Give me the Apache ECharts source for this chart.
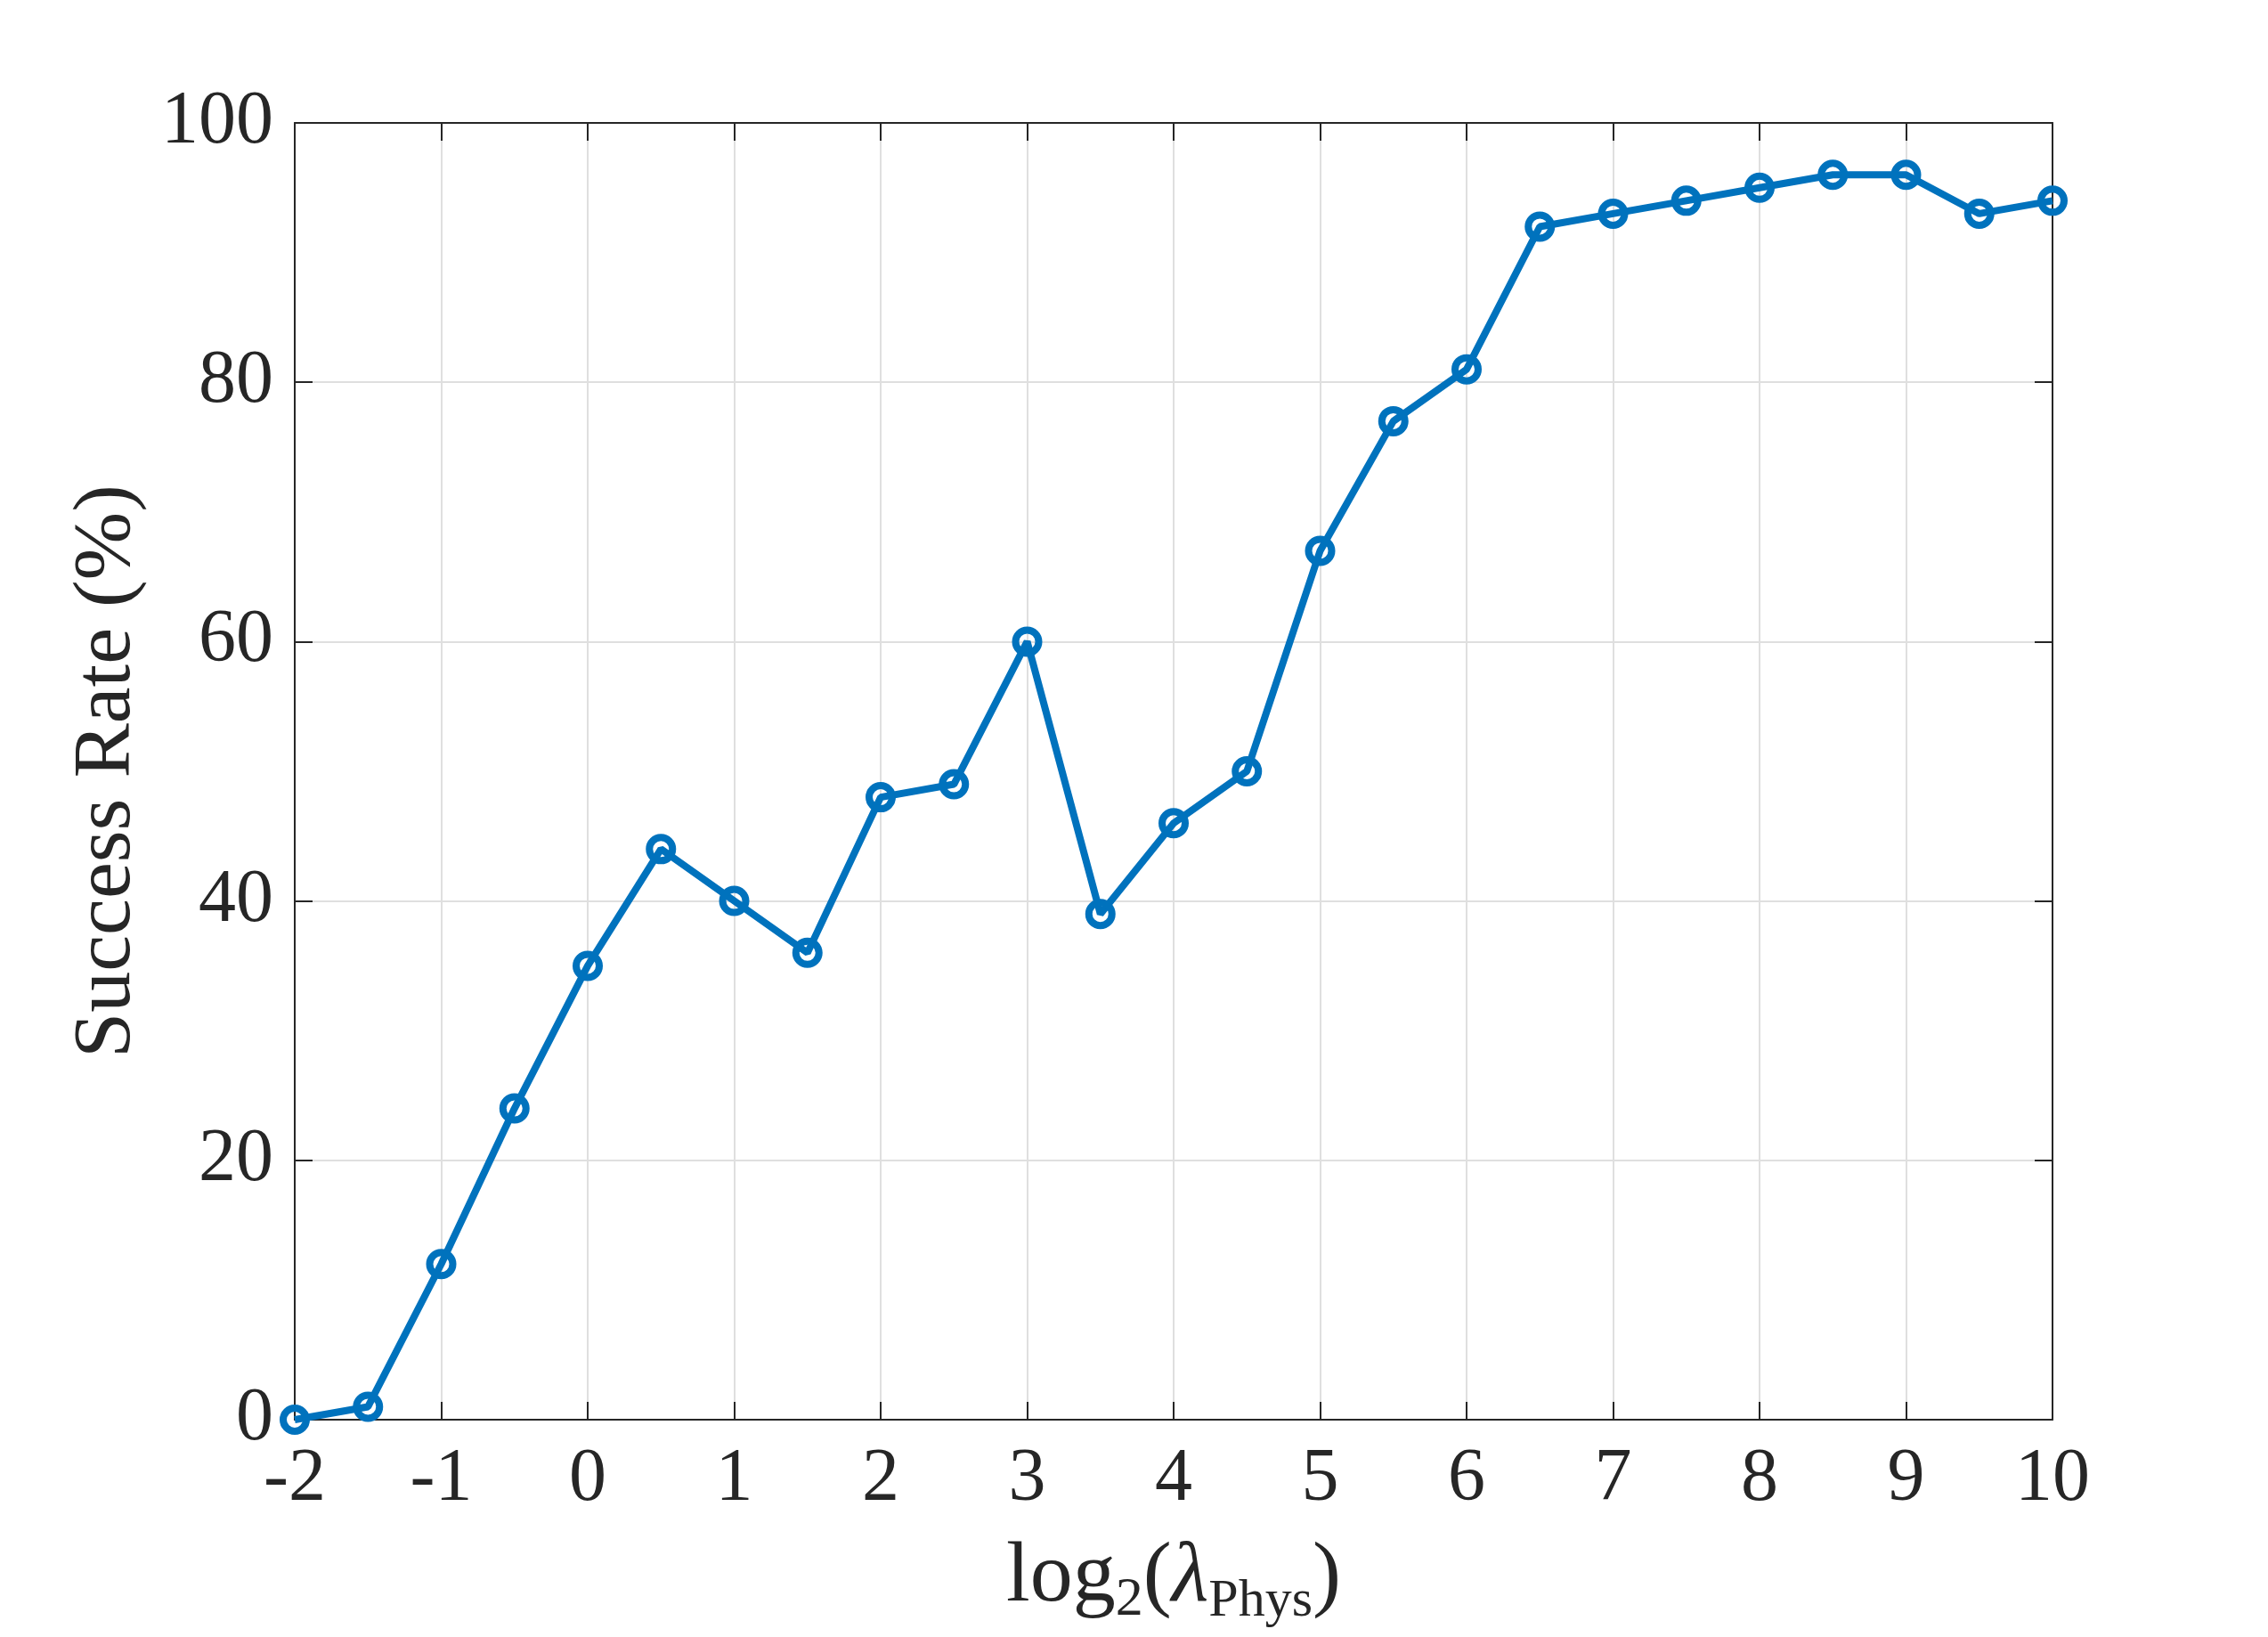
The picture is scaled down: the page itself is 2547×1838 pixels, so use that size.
<!DOCTYPE html>
<html>
<head>
<meta charset="utf-8">
<script src="https://cdn.jsdelivr.net/npm/echarts@6/dist/echarts.min.js"></script>
<style>
  html, body { margin: 0; padding: 0; background: #fff; }
  #main { width: 2547px; height: 1838px; }
</style>
</head>
<body>
<div id="main"></div>
<script>
// log2(lambda_Phys) values and the success rate at each
var lambdaLog2 = [-2, -1.5, -1, -0.5, 0, 0.5, 1, 1.5, 2, 2.5, 3, 3.5, 4, 4.5, 5, 5.5, 6, 6.5, 7, 7.5, 8, 8.5, 9, 9.5, 10];
var successRate = [0, 1, 12, 24, 35, 44, 40, 36, 48, 49, 60, 39, 46, 50, 67, 77, 81, 92, 93, 94, 95, 96, 96, 93, 94];

var xTicks = { min: -2, max: 10, interval: 1 };
var yTicks = { min: 0, max: 100, interval: 20 };

var chartDom = document.getElementById('main');
var myChart = echarts.init(chartDom);

var ink = '#262626';
var blue = '#0072BD';
var font = 'Liberation Serif';

var points = lambdaLog2.map(function (x, i) { return [x, successRate[i]]; });

// top / right copies of the axes: only the frame line and inside ticks
var frameAxis = {
    axisLine: { show: true, onZero: false, lineStyle: { color: ink, width: 2 } },
    axisTick: { show: true, inside: true, length: 20, lineStyle: { color: ink, width: 2 } },
    axisLabel: { show: false },
    splitLine: { show: false }
};

var option = {
    animation: false,
    backgroundColor: '#fff',
    grid: { left: 331, right: 242, top: 138, bottom: 244 },
    xAxis: [
        {
            type: 'value',
            min: xTicks.min, max: xTicks.max, interval: xTicks.interval,
            position: 'bottom',
            name: '{a|log}{s2|2}{a|(}{l|λ}{sp|Phys}{a|)}',
            nameLocation: 'middle',
            nameGap: 122,
            nameTextStyle: {
                rich: {
                    a: { fontFamily: font, fontSize: 96, color: ink, lineHeight: 112 },
                    l: { fontFamily: font, fontSize: 96, color: ink, lineHeight: 112, fontStyle: 'italic' },
                    s2: { fontFamily: font, fontSize: 62, color: ink, lineHeight: 60, verticalAlign: 'bottom' },
                    sp: { fontFamily: font, fontSize: 60, color: ink, lineHeight: 60, verticalAlign: 'bottom' }
                }
            },
            axisLine: { show: true, onZero: false, lineStyle: { color: ink, width: 2 } },
            axisTick: { show: true, inside: true, length: 20, lineStyle: { color: ink, width: 2 } },
            axisLabel: { show: true, margin: 26, fontFamily: font, fontSize: 84, color: ink,
                         formatter: function (v) { return String(v); } },
            splitLine: { show: true, lineStyle: { color: '#dfdfdf', width: 2 } }
        },
        Object.assign({
            type: 'value',
            min: xTicks.min, max: xTicks.max, interval: xTicks.interval,
            position: 'top'
        }, frameAxis)
    ],
    yAxis: [
        {
            type: 'value',
            min: yTicks.min, max: yTicks.max, interval: yTicks.interval,
            position: 'left',
            name: 'Success Rate (%)',
            nameLocation: 'middle',
            nameGap: 164,
            nameRotate: 90,
            nameTextStyle: { fontFamily: font, fontSize: 92, color: ink },
            axisLine: { show: true, onZero: false, lineStyle: { color: ink, width: 2 } },
            axisTick: { show: true, inside: true, length: 20, lineStyle: { color: ink, width: 2 } },
            axisLabel: { show: true, margin: 24, fontFamily: font, fontSize: 84, color: ink },
            splitLine: { show: true, lineStyle: { color: '#dfdfdf', width: 2 } }
        },
        Object.assign({
            type: 'value',
            min: yTicks.min, max: yTicks.max, interval: yTicks.interval,
            position: 'right'
        }, frameAxis)
    ],
    series: [
        {
            name: 'Success Rate',
            type: 'line',
            data: points,
            symbol: 'circle',
            symbolSize: 26,
            clip: false,
            lineStyle: { color: blue, width: 8 },
            itemStyle: { color: 'rgba(255,255,255,0)', borderColor: blue, borderWidth: 8 },
            z: 5
        }
    ]
};

option && myChart.setOption(option);
</script>
</body>
</html>
